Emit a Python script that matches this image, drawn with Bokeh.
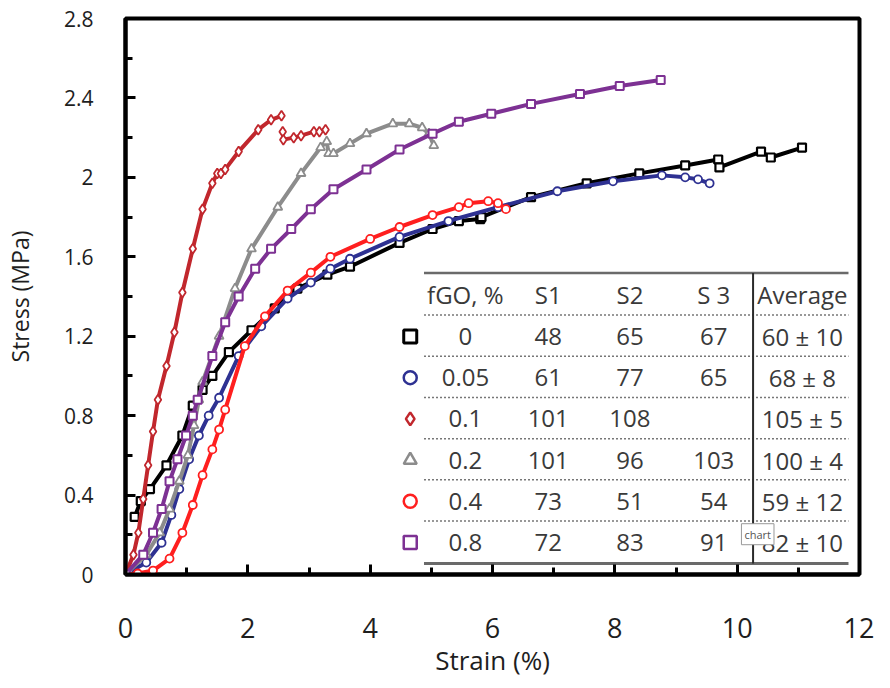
from bokeh.plotting import figure
from bokeh.models import Range1d, FixedTicker, Label
from bokeh.embed import file_html
from bokeh.resources import INLINE
from bokeh.core.properties import value

# ---------------- data ----------------
# fGO 0 %  (black squares)
strain_0 = [0.15, 0.25, 0.40, 0.67, 0.93, 1.10, 1.26, 1.42, 1.69, 2.06, 2.44, 2.81, 3.30, 3.67,
            4.48, 5.02, 5.45, 5.80, 5.82, 6.63, 7.54, 8.40, 9.15, 9.69, 9.71, 10.39, 10.55, 11.06]
stress_0 = [0.29, 0.37, 0.43, 0.55, 0.70, 0.85, 0.93, 1.00, 1.12, 1.23, 1.34, 1.44, 1.51, 1.55,
            1.67, 1.74, 1.78, 1.79, 1.80, 1.90, 1.97, 2.02, 2.06, 2.09, 2.05, 2.13, 2.10, 2.15]
# fGO 0.05 % (navy circles)
strain_005 = [0.05, 0.34, 0.59, 0.75, 0.88, 1.04, 1.20, 1.36, 1.53, 1.85, 2.22, 2.65, 3.03, 3.35,
              3.67, 4.48, 5.28, 6.09, 7.06, 7.97, 8.77, 9.15, 9.36, 9.55]
stress_005 = [0.01, 0.06, 0.16, 0.30, 0.43, 0.58, 0.70, 0.80, 0.89, 1.10, 1.25, 1.39, 1.47, 1.54,
              1.59, 1.70, 1.78, 1.85, 1.93, 1.98, 2.01, 2.00, 1.99, 1.97]
# fGO 0.1 % (dark red diamonds), before and after the break
strain_01 = [0.00, 0.13, 0.21, 0.29, 0.37, 0.45, 0.53, 0.67, 0.80, 0.93, 1.10, 1.26, 1.42, 1.50,
             1.56, 1.63, 1.85, 2.17, 2.38, 2.55]
stress_01 = [0.00, 0.10, 0.21, 0.38, 0.55, 0.72, 0.88, 1.05, 1.22, 1.42, 1.64, 1.84, 1.97, 2.02,
             2.02, 2.04, 2.13, 2.24, 2.29, 2.31]
strain_01_after = [2.57, 2.58, 2.75, 2.87, 3.08, 3.17, 3.27]
stress_01_after = [2.23, 2.19, 2.20, 2.21, 2.23, 2.23, 2.24]
# fGO 0.2 % (grey triangles)
strain_02 = [0.00, 0.34, 0.56, 0.72, 0.88, 1.02, 1.12, 1.20, 1.26, 1.53, 1.79, 2.06, 2.49, 2.87,
             3.19, 3.29, 3.32, 3.40, 3.67, 3.94, 4.37, 4.64, 4.85, 4.96, 5.04]
stress_02 = [0.00, 0.10, 0.21, 0.33, 0.47, 0.60, 0.75, 0.88, 0.97, 1.20, 1.44, 1.64, 1.85, 2.02,
             2.15, 2.18, 2.12, 2.12, 2.17, 2.22, 2.27, 2.27, 2.25, 2.22, 2.16]
# fGO 0.4 % (red circles)
strain_04 = [0.00, 0.20, 0.45, 0.72, 0.93, 1.10, 1.26, 1.42, 1.53, 1.63, 1.95, 2.28, 2.65, 3.03,
             3.35, 4.00, 4.48, 5.02, 5.45, 5.61, 5.93, 6.09, 6.22]
stress_04 = [0.00, 0.005, 0.02, 0.08, 0.21, 0.35, 0.50, 0.63, 0.73, 0.83, 1.15, 1.30, 1.43, 1.52,
             1.60, 1.69, 1.75, 1.81, 1.85, 1.87, 1.88, 1.87, 1.84]
# fGO 0.8 % (purple squares)
strain_08 = [0.00, 0.29, 0.45, 0.59, 0.72, 0.85, 0.99, 1.10, 1.18, 1.42, 1.63, 1.85, 2.12, 2.38,
             2.71, 3.03, 3.40, 3.94, 4.48, 5.02, 5.45, 5.98, 6.63, 7.43, 8.08, 8.75]
stress_08 = [0.00, 0.10, 0.21, 0.33, 0.47, 0.58, 0.70, 0.80, 0.88, 1.10, 1.27, 1.40, 1.54, 1.64,
             1.74, 1.84, 1.94, 2.04, 2.14, 2.22, 2.28, 2.32, 2.37, 2.42, 2.46, 2.49]

# table
fgo_levels = ["0", "0.05", "0.1", "0.2", "0.4", "0.8"]
s1_vals = [48, 61, 101, 101, 73, 72]
s2_vals = [65, 77, 108, 96, 51, 83]
s3_vals = [67, 65, None, 103, 54, 91]
avg_mean = [60, 68, 105, 100, 59, 82]
avg_sd = [10, 8, 5, 4, 12, 10]
header_labels = ["S1", "S2", "S 3", "Average"]

# axes
x_ticks = [0, 2, 4, 6, 8, 10, 12]
x_minor = [1, 3, 5, 7, 9, 11]
y_ticks = [0, 0.4, 0.8, 1.2, 1.6, 2, 2.4, 2.8]
y_tick_labels = ["0", "0.4", "0.8", "1.2", "1.6", "2", "2.4", "2.8"]
y_minor = [0.2, 0.6, 1.0, 1.4, 1.8, 2.2, 2.6]

# ---------------- figure ----------------
p = figure(width=874, height=680, output_backend="svg", toolbar_location=None,
           x_range=Range1d(0, 12), y_range=Range1d(0, 2.8),
           min_border_left=114, min_border_right=15, min_border_top=18, min_border_bottom=104)
p.grid.visible = False
p.outline_line_color = "black"
p.outline_line_width = 4
p.background_fill_color = "white"
p.border_fill_color = "white"

xa = p.xaxis[0]
ya = p.yaxis[0]
xa.ticker = FixedTicker(ticks=x_ticks, minor_ticks=x_minor)
ya.ticker = FixedTicker(ticks=y_ticks, minor_ticks=y_minor)
ya.major_label_overrides = {t: l for t, l in zip(y_ticks, y_tick_labels)}
for ax in (xa, ya):
    ax.axis_line_color = "black"
    ax.axis_line_width = 4
    ax.major_tick_in = 10
    ax.major_tick_out = 0
    ax.minor_tick_in = 7
    ax.minor_tick_out = 0
    ax.major_tick_line_width = 3
    ax.minor_tick_line_width = 3
    ax.major_tick_line_color = "black"
    ax.minor_tick_line_color = "black"
    ax.major_label_text_color = "#1e1e1e"
    ax.axis_label_text_color = "#1e1e1e"
    ax.axis_label_text_font_style = "normal"
    ax.major_label_text_font = "Open Sans"
    ax.axis_label_text_font = "Open Sans"

xa.major_label_text_font_size = "27px"
xa.major_label_standoff = 43
xa.axis_label = "Strain (%)"
xa.axis_label_text_font_size = "26px"
xa.axis_label_standoff = 1

ya.major_label_text_font_size = "21px"
ya.major_label_standoff = 32
ya.axis_label = "Stress (MPa)"
ya.axis_label_text_font_size = "23px"
ya.axis_label_standoff = 25

# ---------------- curves ----------------
series = [
    (strain_0, stress_0, "#000000", "square", 8, 2.2),
    (strain_005, stress_005, "#2e3192", "circle", 8, 1.8),
    (strain_01, stress_01, "#c1272d", "diamond", 10, 1.8),
    (strain_02, stress_02, "#8c8c8c", "triangle", 9, 1.8),
    (strain_04, stress_04, "#ff1f1f", "circle", 8, 1.8),
    (strain_08, stress_08, "#7d3193", "square", 8, 2.0),
]
for xs, ys, col, mk, sz, lw in series:
    p.line(xs, ys, line_color=col, line_width=4)
    p.scatter(xs, ys, marker=mk, size=sz, line_color=col, line_width=lw, fill_color="white")
    if xs is strain_01:
        p.line(strain_01_after[1:], stress_01_after[1:], line_color=col, line_width=4)
        p.scatter(strain_01_after, stress_01_after, marker=mk, size=sz, line_color=col,
                  line_width=lw, fill_color="white")

# ---------------- table ----------------
tbl_left, tbl_right, tbl_vline = 4.88, 11.82, 10.26
tbl_top, tbl_bottom = 1.518, 0.055
header_y = 1.41
row0_y, row_step = 1.199, 0.2076
col_marker, col_fgo, col_s1, col_s2, col_s3, col_avg = 4.655, 5.557, 6.911, 8.247, 9.617, 11.066
row_y = [row0_y - i * row_step for i in range(len(fgo_levels))]

p.segment(x0=[tbl_left], y0=[tbl_top], x1=[tbl_right], y1=[tbl_top], line_color="#6a6a6a", line_width=2.5)
p.segment(x0=[tbl_left], y0=[tbl_bottom], x1=[tbl_right], y1=[tbl_bottom], line_color="#6a6a6a", line_width=3)
dot_y = [y + 0.108 for y in row_y]
p.segment(x0=[tbl_left] * len(dot_y), y0=dot_y, x1=[tbl_right] * len(dot_y), y1=dot_y,
          line_color="#777777", line_width=1.5, line_dash="2 2")
p.segment(x0=[tbl_vline], y0=[tbl_top], x1=[tbl_vline], y1=[tbl_bottom], line_color="#2a2a2a", line_width=2)

txt_kw = dict(text_font=value("Open Sans"), text_font_size=value("24px"), text_color="#3a3a3a",
              text_baseline="middle")
p.text(x=[tbl_left + 0.05], y=[header_y], text=["fGO, %"], text_align="left", **txt_kw)
p.text(x=[col_s1, col_s2, col_s3, col_avg], y=[header_y] * 4, text=header_labels,
       text_align="center", **txt_kw)

cells_x, cells_y, cells_t = [], [], []
for i, y in enumerate(row_y):
    vals = [fgo_levels[i], s1_vals[i], s2_vals[i], s3_vals[i], f"{avg_mean[i]} ± {avg_sd[i]}"]
    for cx, v in zip([col_fgo, col_s1, col_s2, col_s3, col_avg], vals):
        if v is None:
            continue
        cells_x.append(cx)
        cells_y.append(y)
        cells_t.append(str(v))
p.text(x=cells_x, y=cells_y, text=cells_t, text_align="center", **txt_kw)

for i, (xs, ys, col, mk, sz, lw) in enumerate(series):
    p.scatter([col_marker], [row_y[i]], marker=mk, size=13, line_color=col,
              line_width=3 if i == 0 else 2.5, fill_color=None)

# screenshot tooltip artefact
p.add_layout(Label(x=10.07, y=0.15, text="chart", text_font="Open Sans", text_font_size="11px",
                   text_color="#555555", background_fill_color="white", border_line_color="#999999",
                   border_line_width=1, padding=3, text_align="left", text_baseline="bottom"))

open("out.html", "w").write(file_html(p, INLINE))
